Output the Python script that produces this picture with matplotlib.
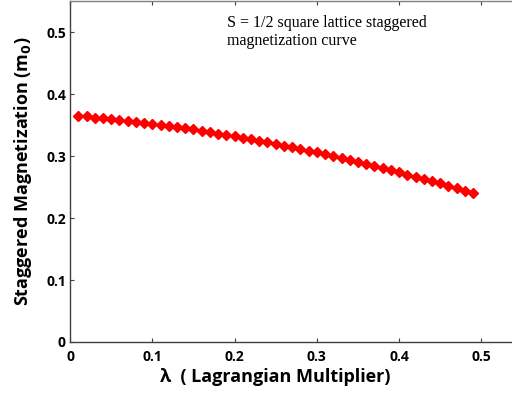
import matplotlib.pyplot as plt

# lagrange multiplier and staggered magnetization m0
lam = [0.01, 0.02, 0.03, 0.04, 0.05, 0.06, 0.07, 0.08, 0.09, 0.10,
       0.11, 0.12, 0.13, 0.14, 0.15, 0.16, 0.17, 0.18, 0.19, 0.20,
       0.21, 0.22, 0.23, 0.24, 0.25, 0.26, 0.27, 0.28, 0.29, 0.30,
       0.31, 0.32, 0.33, 0.34, 0.35, 0.36, 0.37, 0.38, 0.39, 0.40,
       0.41, 0.42, 0.43, 0.44, 0.45, 0.46, 0.47, 0.48, 0.49]
m0 = [0.365, 0.364, 0.362, 0.361, 0.360, 0.358, 0.357, 0.355, 0.354, 0.352,
      0.350, 0.348, 0.347, 0.345, 0.343, 0.341, 0.339, 0.336, 0.334, 0.332,
      0.330, 0.327, 0.325, 0.322, 0.320, 0.317, 0.314, 0.312, 0.309, 0.306,
      0.303, 0.300, 0.297, 0.294, 0.291, 0.288, 0.284, 0.281, 0.277, 0.274,
      0.270, 0.267, 0.263, 0.260, 0.256, 0.252, 0.248, 0.244, 0.240]

xticks = [0, 0.1, 0.2, 0.3, 0.4, 0.5]
xticklabels = ['0', '0.1', '0.2', '0.3', '0.4', '0.5']
yticks = [0, 0.1, 0.2, 0.3, 0.4, 0.5]
yticklabels = ['0', '0.1', '0.2', '0.3', '0.4', '0.5']

fig = plt.figure(figsize=(5.12, 3.94), dpi=100)
ax = fig.add_axes([0.137, 0.132, 0.87, 0.865])

ax.plot(lam, m0, linestyle='none', marker='D', markersize=5.5,
        color='#ff0000', markeredgecolor='#ff0000')

ax.set_xlim(0, 0.5417)
ax.set_ylim(0, 0.55)
ax.set_xticks(xticks)
ax.set_xticklabels(xticklabels)
ax.set_yticks(yticks)
ax.set_yticklabels(yticklabels)

for s in ax.spines.values():
    s.set_color('#404040')
    s.set_linewidth(1.0)
ax.spines['top'].set_color('#808080')
ax.spines['right'].set_visible(False)
ax.tick_params(direction='in', top=True, right=False, length=3,
               color='#404040', labelsize=10)
ax.tick_params(axis='x', pad=6)
ax.tick_params(axis='y', pad=3)
for lab in ax.get_xticklabels() + ax.get_yticklabels():
    lab.set_fontweight('bold')
    lab.set_family('Open Sans')

ax.set_xlabel('λ  ( Lagrangian Multiplier)', fontsize=13, fontweight='bold',
              family='Open Sans', labelpad=3)
ax.xaxis.label.set_x(0.46)
ax.set_ylabel('Staggered Magnetization (m$_\\mathbf{0}$)', fontsize=13,
              fontweight='bold', family='Open Sans', labelpad=9)

ax.text(0.191, 0.527, 'S = 1/2 square lattice staggered\nmagnetization curve',
        family='Liberation Serif', fontsize=11.5, va='top', ha='left',
        linespacing=1.15)

fig.savefig('out.png', dpi=100)
